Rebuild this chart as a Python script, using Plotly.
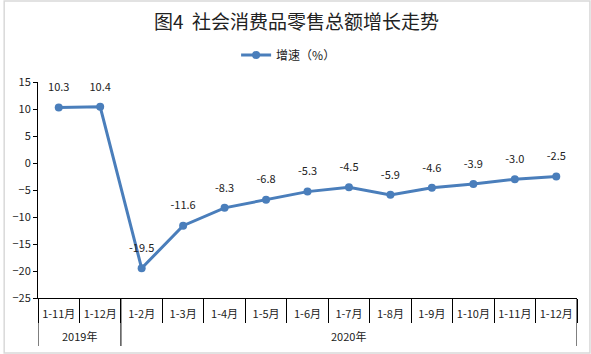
import plotly.graph_objects as go

months = ["1-11月", "1-12月", "1-2月", "1-3月", "1-4月", "1-5月", "1-6月",
          "1-7月", "1-8月", "1-9月", "1-10月", "1-11月", "1-12月"]
year_names = ["2019年", "2020年"]
year_counts = [2, 11]
growth = [10.3, 10.4, -19.5, -11.6, -8.3, -6.8, -5.3, -4.5, -5.9, -4.6, -3.9, -3.0, -2.5]
labels = ["%.1f" % v for v in growth]

W, H = 591, 354
ml, mr, mt, mb = 35, 14, 82, 56
pw = W - ml - mr
ph = H - mt - mb
font = "Noto Sans CJK SC, Microsoft YaHei, sans-serif"
color = "#4A7EBB"

xs = list(range(len(months)))
fig = go.Figure()
fig.add_trace(go.Scatter(
    x=xs, y=growth, mode="lines+markers",
    name="增速（%）",
    line=dict(color=color, width=3), marker=dict(size=8, color=color),
    cliponaxis=False,
))
# data labels (transparent larger markers give the label offset)
fig.add_trace(go.Scatter(
    x=xs, y=growth, mode="markers+text", text=labels, textposition="top center",
    textfont=dict(size=11, color="#222", family=font),
    marker=dict(size=20, color="rgba(0,0,0,0)"), showlegend=False, hoverinfo="skip",
    cliponaxis=False,
))

# group dividers and year labels
start = 0
bounds = [-0.5]
for name, cnt in zip(year_names, year_counts):
    fig.add_annotation(x=start + (cnt - 1) / 2, xref="x", y=-(336 - (H - mb)) / ph, yref="paper",
                       text=name, showarrow=False, yanchor="middle",
                       font=dict(size=11, color="#222", family=font))
    start += cnt
    bounds.append(start - 0.5)
for b in bounds:
    fig.add_shape(type="line", xref="x", yref="paper", x0=b, x1=b, y0=0, y1=-48 / ph,
                  line=dict(color="black", width=1))

# outer frame
fig.add_shape(type="rect", xref="paper", yref="paper",
              x0=-(ml - 1) / pw, x1=1 + (mr - 1) / pw,
              y0=-(mb - 1) / ph, y1=1 + (mt - 1) / ph,
              line=dict(color="#D9D9D9", width=1.5), fillcolor="rgba(0,0,0,0)")

fig.update_layout(
    width=W, height=H, margin=dict(l=ml, r=mr, t=mt, b=mb),
    paper_bgcolor="white", plot_bgcolor="white",
    font=dict(family=font, size=11, color="#222"),
    title=dict(text="图4  社会消费品零售总额增长走势", x=(295 - ml) / pw, xref="paper", xanchor="center",
               y=1 - 22 / H, yanchor="middle", font=dict(size=19, color="#222")),
    showlegend=True,
    legend=dict(orientation="h", x=(287 - ml) / pw, xanchor="center", y=1 + 27 / ph, yanchor="middle",
                font=dict(size=12), bgcolor="rgba(0,0,0,0)"),
)
fig.update_xaxes(range=[-0.5, len(months) - 0.5], tickvals=xs, ticktext=months, tickangle=0,
                 showline=True, linecolor="black", linewidth=1, ticks="",
                 ticklabelstandoff=6,
                 minor=dict(tickvals=[i - 0.5 for i in range(len(months) + 1)], ticks="outside",
                            ticklen=24, tickcolor="black", tickwidth=1, showgrid=False),
                 showgrid=False, zeroline=False, tickfont=dict(size=11))
fig.update_yaxes(range=[-25, 15], dtick=5, showline=True, linecolor="black", linewidth=1,
                 ticks="outside", ticklen=4, tickcolor="black", showgrid=False,
                 zeroline=False, tickfont=dict(size=11))
fig.write_html("out.html")
